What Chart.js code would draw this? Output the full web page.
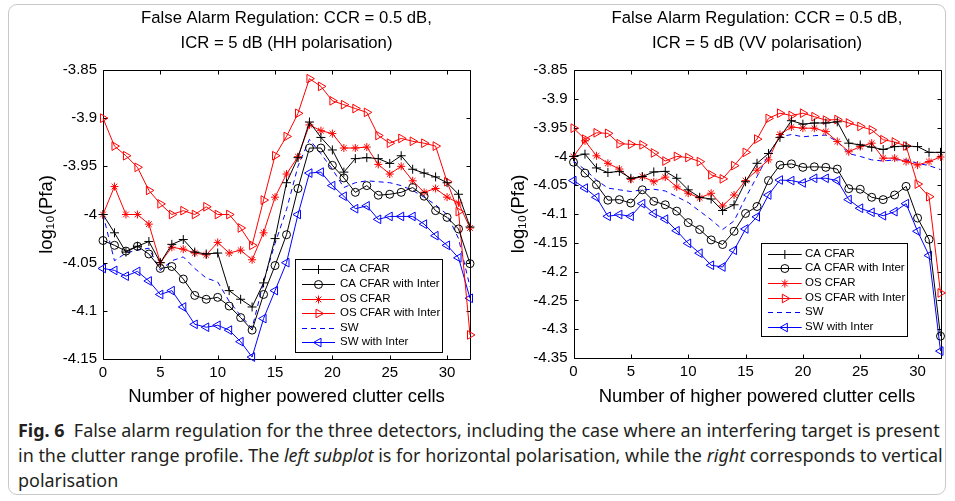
<!DOCTYPE html>
<html><head><meta charset="utf-8">
<script src="https://cdn.jsdelivr.net/npm/chart.js@4.4.1/dist/chart.umd.min.js"></script>
<style>
html,body{margin:0;padding:0;background:#fff;}
body{width:955px;height:501px;overflow:hidden;position:relative;}
#frame{position:absolute;left:8px;top:4px;width:938px;height:491px;border:1px solid #c8c8c8;border-radius:9px;box-sizing:border-box;}
#c1{position:absolute;left:0;top:0;}
#c2{position:absolute;left:478px;top:0;}
.cap{position:absolute;left:18px;white-space:nowrap;color:#231f20;font-family:"Noto Sans","Open Sans",sans-serif;font-size:16px;line-height:20px;}
.cap b{font-weight:700;}
</style>
</head><body>
<div id="frame"></div>
<canvas id="c1" width="478" height="410"></canvas>
<canvas id="c2" width="477" height="410"></canvas>
<div class="cap" id="l1" style="top:420px"><b>Fig. 6</b>&nbsp; False alarm regulation for the three detectors, including the case where an interfering target is present</div>
<div class="cap" id="l2" style="top:445px">in the clutter range profile. The <i>left subplot</i> is for horizontal polarisation, while the <i>right</i> corresponds to vertical</div>
<div class="cap" id="l3" style="top:470px">polarisation</div>
<script>
// ---------- data ----------
const cells = [0,1,2,3,4,5,6,7,8,9,10,11,12,13,14,15,16,17,18,19,20,21,22,23,24,25,26,27,28,29,30,31,32];
const seriesNames = ["CA CFAR","CA CFAR with Inter","OS CFAR","OS CFAR with Inter","SW","SW with Inter"];

// HH polarisation (left)
const caHH   = [-4.0,-4.019,-4.039,-4.033,-4.028,-4.05,-4.031,-4.026,-4.039,-4.041,-4.04,-4.079,-4.088,-4.096,-4.071,-4.025,-3.967,-3.941,-3.904,-3.92,-3.933,-3.956,-3.942,-3.941,-3.942,-3.947,-3.939,-3.953,-3.957,-3.961,-3.967,-3.979,-4.013];
const caiHH  = [-4.027,-4.032,-4.038,-4.033,-4.041,-4.056,-4.054,-4.067,-4.084,-4.088,-4.086,-4.095,-4.107,-4.12,-4.083,-4.053,-4.021,-3.973,-3.931,-3.931,-3.949,-3.962,-3.977,-3.97,-3.98,-3.979,-3.977,-3.972,-3.981,-3.996,-4.003,-4.015,-4.051];
const osHH   = [-4.0,-3.971,-4.0,-4.0,-4.01,-4.05,-4.034,-4.036,-4.04,-4.042,-4.029,-4.04,-4.037,-4.047,-4.019,-3.982,-3.958,-3.94,-3.907,-3.913,-3.916,-3.931,-3.931,-3.93,-3.948,-3.958,-3.95,-3.965,-3.977,-3.973,-3.982,-3.988,-4.014];
const osiHH  = [-3.9,-3.929,-3.939,-3.951,-3.975,-3.989,-4.0,-3.996,-4.0,-3.992,-4.0,-4.0,-4.014,-4.032,-3.985,-3.939,-3.919,-3.895,-3.859,-3.867,-3.882,-3.886,-3.89,-3.894,-3.918,-3.926,-3.921,-3.924,-3.926,-3.929,-3.966,-3.997,-4.125];
const swHH   = [-4.0,-4.048,-4.04,-4.037,-4.035,-4.058,-4.048,-4.044,-4.056,-4.066,-4.07,-4.09,-4.105,-4.118,-4.07,-4.03,-3.995,-3.95,-3.922,-3.937,-3.953,-3.972,-3.967,-3.965,-3.966,-3.967,-3.97,-3.975,-3.982,-3.99,-4.0,-4.025,-4.075];
const swiHH  = [-4.056,-4.058,-4.064,-4.059,-4.069,-4.083,-4.079,-4.096,-4.114,-4.117,-4.115,-4.12,-4.132,-4.148,-4.108,-4.079,-4.05,-4.0,-3.957,-3.956,-3.97,-3.981,-3.994,-3.991,-4.005,-4.002,-4.002,-4.002,-4.01,-4.022,-4.032,-4.045,-4.087];

// VV polarisation (right)
const caVV   = [-4.0,-3.996,-4.02,-4.028,-4.026,-4.038,-4.035,-4.027,-4.026,-4.038,-4.058,-4.071,-4.074,-4.094,-4.084,-4.044,-4.012,-3.995,-3.967,-3.938,-3.944,-3.942,-3.942,-3.94,-3.977,-3.98,-3.984,-3.988,-3.983,-3.982,-3.983,-3.993,-3.993];
const caiVV  = [-4.01,-4.029,-4.049,-4.076,-4.075,-4.081,-4.058,-4.078,-4.084,-4.095,-4.115,-4.127,-4.145,-4.153,-4.13,-4.099,-4.087,-4.042,-4.015,-4.013,-4.019,-4.018,-4.019,-4.022,-4.056,-4.057,-4.071,-4.075,-4.067,-4.052,-4.107,-4.144,-4.312];
const osVV   = [-4.0,-3.973,-3.999,-4.012,-4.022,-4.04,-4.035,-4.044,-4.036,-4.053,-4.064,-4.072,-4.064,-4.086,-4.067,-4.042,-4.024,-4.006,-3.962,-3.949,-3.951,-3.951,-3.957,-3.974,-3.992,-3.983,-3.977,-4.003,-4.003,-4.009,-4.015,-4.009,-4.001];
const osiVV  = [-3.951,-3.97,-3.959,-3.96,-3.978,-3.979,-3.98,-3.994,-4.008,-4.0,-4.002,-4.009,-4.032,-4.039,-4.016,-3.993,-3.97,-3.934,-3.925,-3.929,-3.925,-3.931,-3.937,-3.936,-3.942,-3.948,-3.954,-3.971,-3.975,-3.982,-4.048,-4.07,-4.237];
const swVV   = [-4.008,-4.023,-4.041,-4.055,-4.058,-4.061,-4.058,-4.057,-4.06,-4.07,-4.08,-4.095,-4.11,-4.127,-4.112,-4.072,-4.035,-3.997,-3.966,-3.962,-3.966,-3.964,-3.963,-3.974,-3.995,-4.0,-4.006,-4.008,-4.006,-4.006,-4.012,-4.016,-4.023];
const swiVV  = [-4.042,-4.055,-4.071,-4.104,-4.101,-4.104,-4.082,-4.099,-4.109,-4.129,-4.151,-4.168,-4.189,-4.192,-4.163,-4.126,-4.105,-4.067,-4.041,-4.042,-4.046,-4.038,-4.038,-4.042,-4.075,-4.09,-4.097,-4.103,-4.096,-4.082,-4.13,-4.172,-4.338];

const xTicks = [0,5,10,15,20,25,30];
const titleHH = ["False Alarm Regulation: CCR = 0.5 dB,", "ICR = 5 dB (HH polarisation)"];
const titleVV = ["False Alarm Regulation: CCR = 0.5 dB,", "ICR = 5 dB (VV polarisation)"];
const xTitle = "Number of higher powered clutter cells";
const yTitle = "log\u2081\u2080(Pfa)";

// ---------- styles ----------
const FONT = "'Liberation Sans', Arial, Helvetica, sans-serif";
const styles = [
  {color:'#000000', pointStyle:'cross',    radius:4.5, rotation:0,   dash:[]},
  {color:'#000000', pointStyle:'circle',   radius:4,   rotation:0,   dash:[]},
  {color:'#ff0000', pointStyle:'star',     radius:4,   rotation:0,   dash:[]},
  {color:'#ff0000', pointStyle:'triangle', radius:5,   rotation:90,  dash:[]},
  {color:'#0000ff', pointStyle:false,      radius:0,   rotation:0,   dash:[5,4]},
  {color:'#0000ff', pointStyle:'triangle', radius:5,   rotation:-90, dash:[]}
];

function makeDatasets(arrs){
  return arrs.map((a,i)=>{
    const s = styles[i];
    return {
      label: seriesNames[i],
      data: cells.map((c,j)=>({x:c, y:a[j]})),
      borderColor: s.color,
      borderWidth: 1,
      borderDash: s.dash,
      backgroundColor: 'rgba(0,0,0,0)',
      pointStyle: s.pointStyle || 'circle',
      pointRadius: s.radius,
      pointRotation: s.rotation,
      pointBorderColor: s.color,
      pointBackgroundColor: 'rgba(0,0,0,0)',
      pointBorderWidth: 1,
      tension: 0,
      clip: false,
      fill: false
    };
  });
}

const frameBox = {
  id:'frameBox',
  beforeDatasetsDraw(chart){
    const {ctx, chartArea:a} = chart;
    const xs = chart.scales.x, ys = chart.scales.y;
    ctx.save();
    ctx.strokeStyle = '#000'; ctx.lineWidth = 1;
    const L = Math.round(a.left)+0.5, R = Math.round(a.right)+0.5, T = Math.round(a.top)+0.5, B = Math.round(a.bottom)+0.5;
    ctx.beginPath(); ctx.rect(L, T, R-L, B-T); ctx.stroke();
    const tl = 4;
    ctx.beginPath();
    xs.ticks.forEach(t=>{
      const px = Math.round(xs.getPixelForValue(t.value))+0.5;
      ctx.moveTo(px,B); ctx.lineTo(px,B-tl);
      ctx.moveTo(px,T); ctx.lineTo(px,T+tl);
    });
    ys.ticks.forEach(t=>{
      const py = Math.round(ys.getPixelForValue(t.value))+0.5;
      ctx.moveTo(L,py); ctx.lineTo(L+tl,py);
      ctx.moveTo(R,py); ctx.lineTo(R-tl,py);
    });
    ctx.stroke();
    ctx.restore();
  }
};

const panelTitle = {
  id:'panelTitle',
  afterDraw(chart, args, opts){
    const {ctx, chartArea:a} = chart;
    ctx.save();
    ctx.fillStyle = '#000';
    ctx.font = opts.size + "px " + FONT;
    ctx.textAlign = 'center';
    ctx.textBaseline = 'middle';
    const cx = (a.left + a.right)/2;
    opts.lines.forEach((t,i)=> ctx.fillText(t, cx, opts.y0 + i*opts.dy));
    ctx.restore();
  }
};

const boxLegend = {
  id:'boxLegend',
  afterDatasetsDraw(chart, args, opts){
    const ctx = chart.ctx;
    ctx.save();
    ctx.fillStyle = '#fff';
    ctx.fillRect(opts.x, opts.y, opts.w, opts.h);
    ctx.strokeStyle = '#000'; ctx.lineWidth = 1;
    ctx.strokeRect(Math.round(opts.x)+0.5, Math.round(opts.y)+0.5, Math.round(opts.w), Math.round(opts.h));
    ctx.font = "11.5px " + FONT;
    ctx.textBaseline = 'middle';
    chart.data.datasets.forEach((ds,i)=>{
      const s = styles[i];
      const y = opts.y + opts.row0 + i*opts.dy;
      ctx.strokeStyle = s.color; ctx.lineWidth = 1;
      ctx.setLineDash(s.dash);
      ctx.beginPath(); ctx.moveTo(opts.sx0, Math.round(y)+0.5); ctx.lineTo(opts.sx1, Math.round(y)+0.5); ctx.stroke();
      ctx.setLineDash([]);
      if (s.pointStyle){
        ctx.fillStyle = 'rgba(0,0,0,0)';
        Chart.helpers.drawPoint(ctx, {pointStyle:s.pointStyle, radius:s.radius, rotation:s.rotation, borderWidth:1}, (opts.sx0+opts.sx1)/2, Math.round(y)+0.5);
      }
      ctx.fillStyle = '#000';
      ctx.fillText(ds.label, opts.tx, y);
    });
    ctx.restore();
  }
};

function makeChart(id, arrs, titles, yMin, yMax, padLeft, areaLeft, padRight, xHeight, legend){
  return new Chart(document.getElementById(id), {
    type:'line',
    data:{ datasets: makeDatasets(arrs) },
    plugins:[frameBox, boxLegend, panelTitle],
    options:{
      responsive:false, animation:false, events:[],
      layout:{ padding:{left:padLeft, right:padRight, top:70, bottom:0} },
      plugins:{
        legend:{display:false}, tooltip:{enabled:false}, title:{display:false},
        panelTitle:{lines:titles, size:16.7, y0:18.5, dy:25},
        boxLegend: legend
      },
      scales:{
        x:{ type:'linear', min:0, max:32,
            grid:{display:false, drawTicks:false}, border:{display:false},
            ticks:{stepSize:5, includeBounds:false, color:'#000', padding:5,
                   font:{family:FONT, size:15}, maxRotation:0,
                   callback:(v)=> xTicks.includes(v) ? String(v) : null},
            title:{display:true, text:xTitle, color:'#000', font:{family:FONT, size:18.5}, padding:{top:2,bottom:2}},
            afterFit:(s)=>{ s.height = xHeight; }
        },
        y:{ type:'linear', min:yMin, max:yMax,
            grid:{display:false, drawTicks:false}, border:{display:false},
            ticks:{stepSize:0.05, color:'#000', padding:6, font:{family:FONT, size:15},
                   callback:(v)=> String(+v.toFixed(2))},
            title:{display:true, text:yTitle, color:'#000', font:{family:FONT, size:18.5}, padding:{top:4,bottom:4}},
            afterFit:(s)=>{ s.width = areaLeft - padLeft; }
        }
      }
    }
  });
}

makeChart('c1', [caHH,caiHH,osHH,osiHH,swHH,swiHH], titleHH, -4.15, -3.85, 32, 103, 8, 51,
  {x:295, y:259, w:147, h:93, row0:10.3, dy:14.6, sx0:302, sx1:335, tx:340});
makeChart('c2', [caVV,caiVV,osVV,osiVV,swVV,swiVV], titleVV, -4.35, -3.85, 26, 95.5, 14.5, 52,
  {x:282.7, y:243, w:145.5, h:93, row0:10.7, dy:14.6, sx0:290, sx1:323.7, tx:327});

// fit caption line widths
(function(){
  const l1 = document.getElementById('l1');
  const w = l1.getBoundingClientRect().width;
  const target = 922;
  const fs = 16 * target / w;
  document.querySelectorAll('.cap').forEach(e=>{ e.style.fontSize = fs.toFixed(2)+'px'; });
})();
</script>
</body></html>
